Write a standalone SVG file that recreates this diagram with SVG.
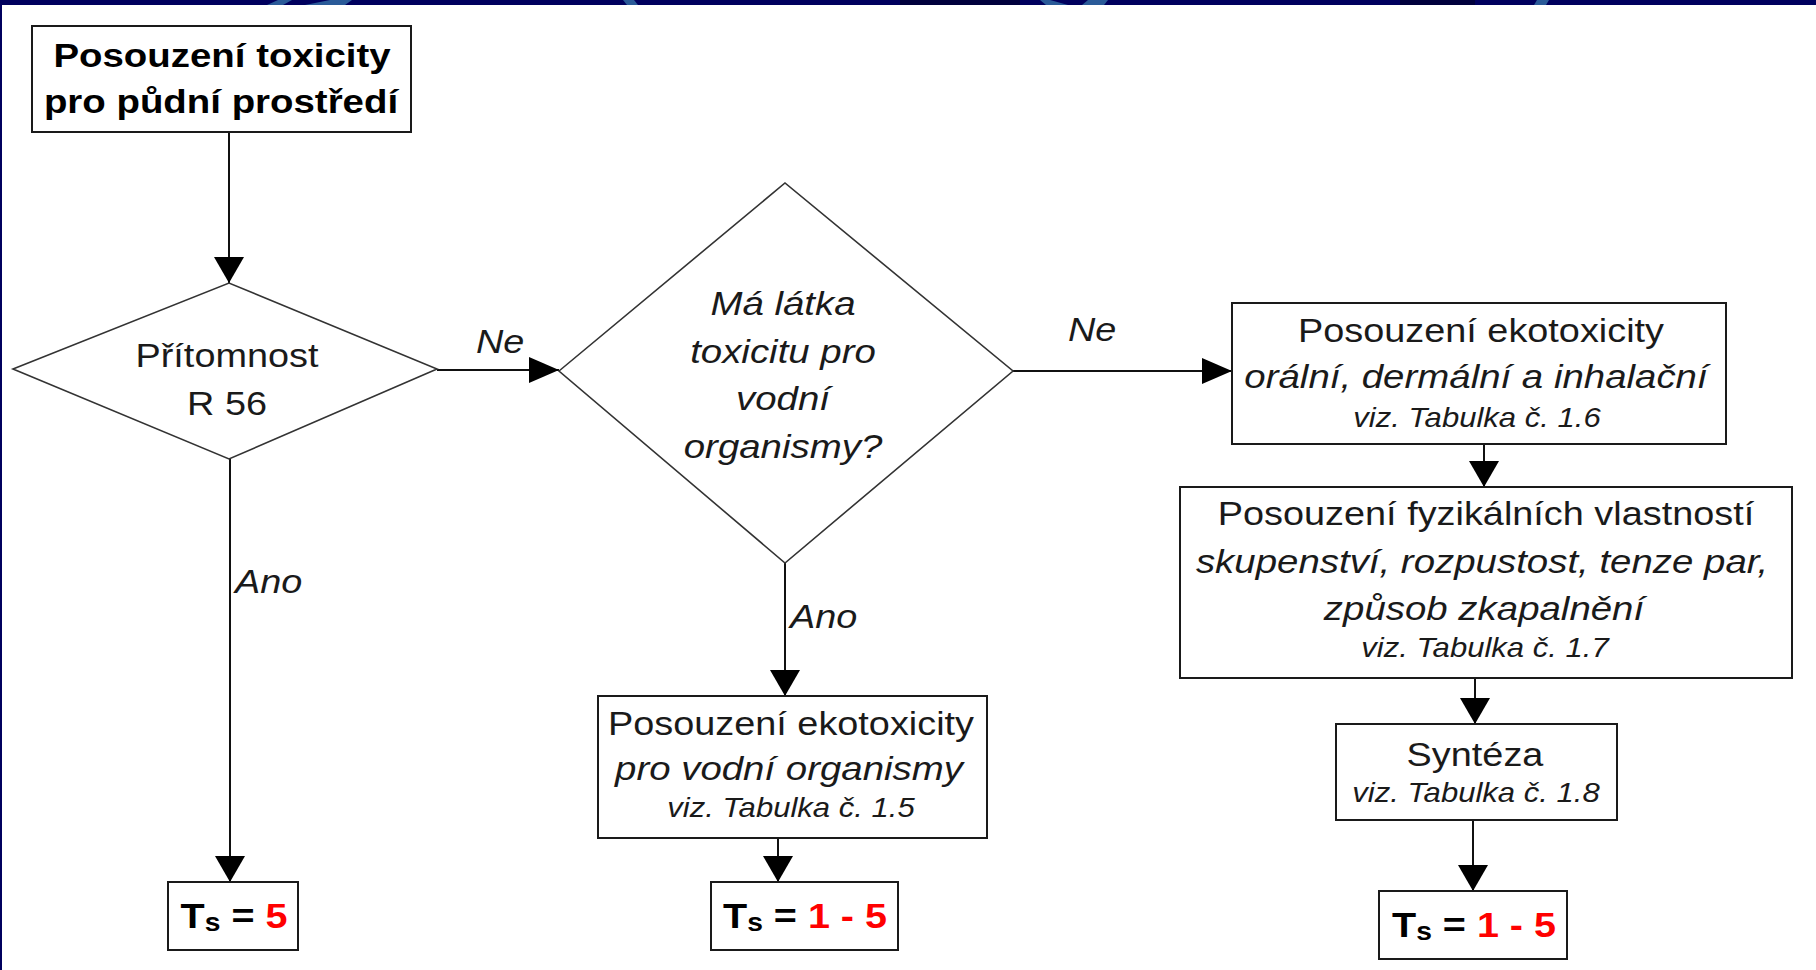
<svg xmlns="http://www.w3.org/2000/svg" width="1816" height="970" viewBox="0 0 1816 970">
<style>
.box{fill:#fff;stroke:#1a1a1a;stroke-width:2}
.dia{fill:#fff;stroke:#333;stroke-width:1.6}
.con{stroke:#111;stroke-width:2;fill:none}
text{font-family:"Liberation Sans",Arial,sans-serif;fill:#1a1a1a;text-anchor:middle}
.b{font-weight:bold;font-size:34px;fill:#000}
.r{font-size:33.5px}
.i{font-size:34px;font-style:italic}
.v{font-size:27.5px;font-style:italic}
.lbl{font-size:33.5px;font-style:italic;text-anchor:start}
.ts{font-weight:bold;font-size:35px;fill:#000}
.red{fill:#ff0000}
</style>
<defs>
<marker id="ah" markerUnits="userSpaceOnUse" markerWidth="30" markerHeight="26" refX="30" refY="13" orient="auto"><path d="M0,0 L30,13 L0,26 Z" fill="#000"/></marker>
<marker id="av" markerUnits="userSpaceOnUse" markerWidth="26" markerHeight="30" refX="26" refY="15" orient="auto"><path d="M0,0 L26,15 L0,30 Z" fill="#000"/></marker>
</defs>
<rect x="0" y="0" width="1816" height="970" fill="#fff"/>
<g id="frame">
<rect x="0" y="0" width="1816" height="5" fill="#00005e"/>
<rect x="900" y="0" width="120" height="5" fill="#00003c"/>
<rect x="1400" y="0" width="75" height="5" fill="#00003c"/>
<polygon points="267,5 278,0 292,0 283,5" fill="#2a5a98"/>
<polygon points="305,5 330,0 352,0 345,5" fill="#2a5a98"/>
<polygon points="623,0 634,0 638,5 627,5" fill="#2a5a98"/>
<polygon points="1040,0 1050,0 1068,5 1046,5" fill="#2a5a98"/>
<polygon points="1088,0 1108,0 1104,5 1082,5" fill="#2a5a98"/>
<polygon points="1537,0 1549,0 1546,5 1534,5" fill="#2a5a98"/>
<rect x="0" y="0" width="2" height="970" fill="#00005e"/>
</g>
<g id="connectors">
<line class="con" x1="229" y1="132" x2="229" y2="283" marker-end="url(#av)"/>
<line class="con" x1="437" y1="370" x2="559" y2="370" marker-end="url(#ah)"/>
<line class="con" x1="230" y1="459" x2="230" y2="882" marker-end="url(#av)"/>
<line class="con" x1="785" y1="563" x2="785" y2="696" marker-end="url(#av)"/>
<line class="con" x1="1013" y1="371" x2="1232" y2="371" marker-end="url(#ah)"/>
<line class="con" x1="778" y1="838" x2="778" y2="882" marker-end="url(#av)"/>
<line class="con" x1="1484" y1="444" x2="1484" y2="487" marker-end="url(#av)"/>
<line class="con" x1="1475" y1="678" x2="1475" y2="724" marker-end="url(#av)"/>
<line class="con" x1="1473" y1="820" x2="1473" y2="891" marker-end="url(#av)"/>
<text class="lbl" transform="translate(476,353) scale(1.13,1)">Ne</text>
<text class="lbl" transform="translate(1068,341) scale(1.13,1)">Ne</text>
<text class="lbl" transform="translate(235,593) scale(1.13,1)">Ano</text>
<text class="lbl" transform="translate(790,628) scale(1.13,1)">Ano</text>
</g>
<g id="start">
<rect class="box" x="32" y="26" width="379" height="106"/>
<text class="b" transform="translate(222,67) scale(1.13,1)">Posouzení toxicity</text>
<text class="b" transform="translate(221,113) scale(1.13,1)">pro půdní prostředí</text>
</g>
<g id="r56">
<polygon class="dia" points="13,369 229,283 437,369 229,459"/>
<text class="r" transform="translate(227,367) scale(1.13,1)">Přítomnost</text>
<text class="r" transform="translate(227,415) scale(1.13,1)">R 56</text>
</g>
<g id="aqua">
<polygon class="dia" points="559,371 785,183 1013,371 785,563"/>
<text class="i" transform="translate(783,315) scale(1.13,1)">Má látka</text>
<text class="i" transform="translate(783,363) scale(1.13,1)">toxicitu pro</text>
<text class="i" transform="translate(783,410) scale(1.13,1)">vodní</text>
<text class="i" transform="translate(783,458) scale(1.13,1)">organismy?</text>
</g>
<g id="ts1">
<rect class="box" x="168" y="882" width="130" height="68"/>
<text class="ts" transform="translate(234,928) scale(1.13,1)">T<tspan font-size="25" dy="3">s</tspan><tspan dy="-3"> = </tspan><tspan class="red">5</tspan></text>
</g>
<g id="eko-voda">
<rect class="box" x="598" y="696" width="389" height="142"/>
<text class="r" transform="translate(791,735) scale(1.13,1)">Posouzení ekotoxicity</text>
<text class="i" transform="translate(789,780) scale(1.13,1)">pro vodní organismy</text>
<text class="v" transform="translate(791,817) scale(1.13,1)">viz. Tabulka č. 1.5</text>
</g>
<g id="ts2">
<rect class="box" x="711" y="882" width="187" height="68"/>
<text class="ts" transform="translate(805,928) scale(1.13,1)">T<tspan font-size="25" dy="3">s</tspan><tspan dy="-3"> = </tspan><tspan class="red">1 - 5</tspan></text>
</g>
<g id="eko-oral">
<rect class="box" x="1232" y="303" width="494" height="141"/>
<text class="r" transform="translate(1481,342) scale(1.13,1)">Posouzení ekotoxicity</text>
<text class="i" transform="translate(1476,388) scale(1.13,1)">orální, dermální a inhalační</text>
<text class="v" transform="translate(1477,427) scale(1.13,1)">viz. Tabulka č. 1.6</text>
</g>
<g id="fyz">
<rect class="box" x="1180" y="487" width="612" height="191"/>
<text class="r" transform="translate(1486,525) scale(1.13,1)">Posouzení fyzikálních vlastností</text>
<text class="i" transform="translate(1482,573) scale(1.13,1)">skupenství, rozpustost, tenze par,</text>
<text class="i" transform="translate(1484,620) scale(1.13,1)">způsob zkapalnění</text>
<text class="v" transform="translate(1485,657) scale(1.13,1)">viz. Tabulka č. 1.7</text>
</g>
<g id="synteza">
<rect class="box" x="1336" y="724" width="281" height="96"/>
<text class="r" transform="translate(1475,766) scale(1.13,1)">Syntéza</text>
<text class="v" transform="translate(1476,802) scale(1.13,1)">viz. Tabulka č. 1.8</text>
</g>
<g id="ts3">
<rect class="box" x="1379" y="891" width="188" height="68"/>
<text class="ts" transform="translate(1474,937) scale(1.13,1)">T<tspan font-size="25" dy="3">s</tspan><tspan dy="-3"> = </tspan><tspan class="red">1 - 5</tspan></text>
</g>
</svg>
